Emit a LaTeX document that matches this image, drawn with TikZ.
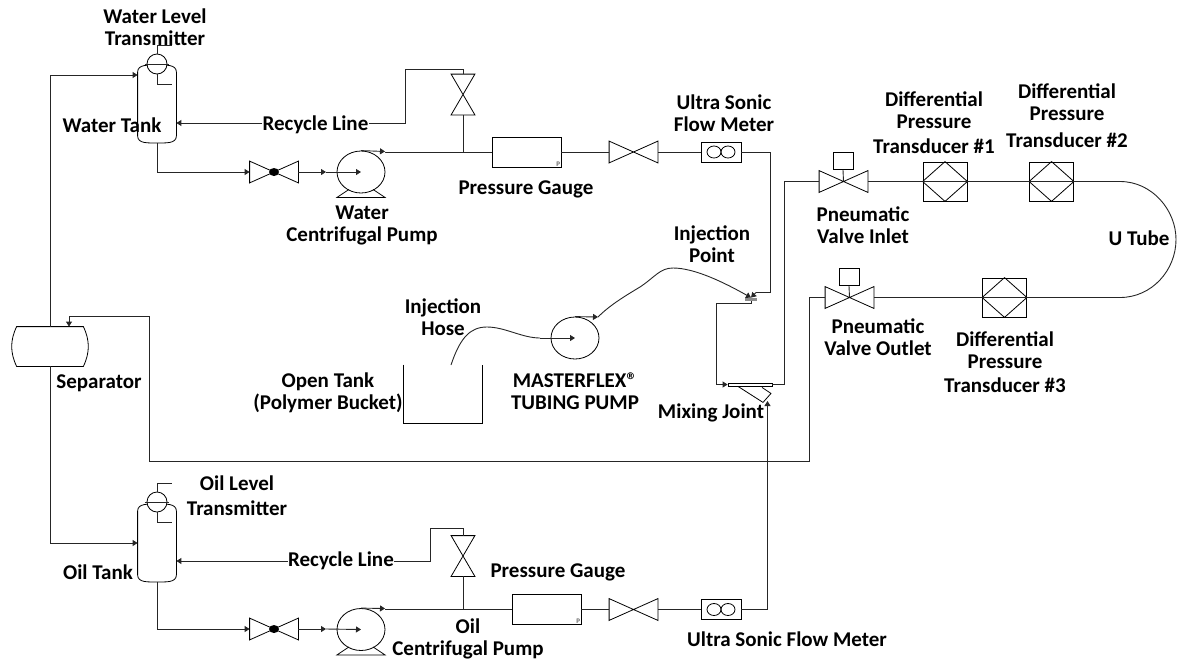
\documentclass[tikz,border=0pt]{standalone}
\usepackage{fontspec}
\setmainfont{Carlito}
\usetikzlibrary{arrows.meta,shapes.geometric}

\begin{document}
\begin{tikzpicture}[
    x=1pt, y=-1pt,
    line width=0.8pt,
    lbl/.style={align=center, inner sep=0pt, font=\fontsize{21}{22}\selectfont\bfseries},
    pipe/.style={draw=black!85, line width=0.9pt},
    arr/.style={pipe, -{Triangle[length=5pt,width=6pt]}},
    valve/.style={inner sep=0pt, minimum width=48pt, minimum height=21pt,
      append after command={\pgfextra{\let\LN\tikzlastnode
        \draw (\LN.north west) -- (\LN.south east) -- (\LN.north east) -- (\LN.south west) -- cycle;}}},
    ballvalve/.style={valve, append after command={\pgfextra{\let\LN\tikzlastnode
        \fill (\LN.center) ellipse (5pt and 4pt);}}},
    vvalve/.style={inner sep=0pt, minimum width=23pt, minimum height=40pt,
      append after command={\pgfextra{\let\LN\tikzlastnode
        \draw (\LN.north west) -- (\LN.north east) -- (\LN.south west) -- (\LN.south east) -- cycle;}}},
    tank/.style={inner sep=0pt, minimum width=38pt, minimum height=77pt,
      append after command={\pgfextra{\let\LN\tikzlastnode
        \draw ([yshift=-7pt]\LN.north west) to[out=90,in=180] (\LN.north)
          to[out=0,in=90] ([yshift=-7pt]\LN.north east) -- ([yshift=7pt]\LN.south east)
          to[out=-90,in=0] (\LN.south) to[out=180,in=-90] ([yshift=7pt]\LN.south west) -- cycle;}}},
    level/.style={draw, circle, fill=white, inner sep=0pt, minimum size=20pt},
    pump/.style={draw, ellipse, inner sep=0pt, minimum width=48pt, minimum height=42pt},
    basepump/.style={pump, append after command={\pgfextra{\let\LN\tikzlastnode
        \draw ([xshift=-12pt,yshift=4pt]\LN.south) -- ([xshift=-24pt,yshift=-4pt]\LN.south)
          -- ([xshift=24pt,yshift=-4pt]\LN.south) -- ([xshift=12pt,yshift=4pt]\LN.south);}}},
    gauge/.style={draw, inner sep=0pt, minimum width=69pt, minimum height=30pt},
    gaugep/.style={inner sep=1pt, text=black!60, font=\fontsize{7}{8}\selectfont\bfseries},
    flowmeter/.style={draw, inner sep=0pt, minimum width=40pt, minimum height=20pt,
      append after command={\pgfextra{\let\LN\tikzlastnode
        \draw ([xshift=-7pt]\LN.center) ellipse (7pt and 6pt);
        \draw ([xshift=7pt]\LN.center) ellipse (7pt and 6pt);}}},
    dpcell/.style={draw, inner sep=0pt, minimum width=44pt, minimum height=39pt,
      append after command={\pgfextra{\let\LN\tikzlastnode
        \draw (\LN.west) -- (\LN.north) -- (\LN.east) -- (\LN.south) -- cycle;}}},
    actuator/.style={draw, inner sep=0pt, minimum width=20pt, minimum height=17pt},
    separator/.style={inner sep=0pt, minimum width=78pt, minimum height=39pt,
      append after command={\pgfextra{\let\LN\tikzlastnode
        \draw ([xshift=6pt]\LN.north west) -- ([xshift=-6pt]\LN.north east)
          to[out=-65,in=65] ([xshift=-6pt]\LN.south east) -- ([xshift=6pt]\LN.south west)
          to[out=115,in=-115] cycle;}}},
    opentank/.style={inner sep=0pt, minimum width=78pt, minimum height=58pt,
      append after command={\pgfextra{\let\LN\tikzlastnode
        \draw (\LN.north west) -- (\LN.south west) -- (\LN.south east) -- (\LN.north east);}}},
    mixer/.style={draw, inner sep=0pt, minimum width=44pt, minimum height=3pt,
      append after command={\pgfextra{\let\LN\tikzlastnode
        \draw ([xshift=-12pt]\LN.south) -- ([xshift=13pt,yshift=-16pt]\LN.south)
          -- ([xshift=21pt,yshift=-7pt]\LN.south) -- ([xshift=12pt,yshift=-1pt]\LN.south);}}},
    injbar/.style={fill=black!45, inner sep=0pt, minimum width=12pt, minimum height=3pt},
  ]
    \useasboundingbox (0,0) rectangle (1177,659);

    % separator and tanks
    \node[separator] (sep) at (50,346.5) {};
    \node[tank] (wtank) at (157,104) {};
    \node[level] (wlt) at (157,64) {};
    \node[tank] (otank) at (157,543) {};
    \node[level] (olt) at (157,502) {};
    \coordinate (wlt1) at (172,45);
    \coordinate (wlt2) at (172,84);
    \coordinate (olt1) at (172,483);
    \coordinate (olt2) at (172,522);

    % water line
    \node[ballvalve] (wball) at (274,172) {};
    \node[basepump] (wpump) at (361,172) {};
    \node[vvalve] (wrv) at (463,94.5) {};
    \node[gauge] (wgauge) at (526.5,152) {};
    \node[gaugep, anchor=south east] (wgp) at (wgauge.south east) {P};
    \node[valve] (wgv) at (633.5,152) {};
    \node[flowmeter] (wfm) at (721,152) {};

    % oil line
    \node[ballvalve] (oball) at (274,629) {};
    \node[basepump] (opump) at (361,629.5) {};
    \node[vvalve] (orv) at (463,556) {};
    \node[gauge] (ogauge) at (546.5,609.5) {};
    \node[gaugep, anchor=south east] (ogp) at (ogauge.south east) {P};
    \node[valve] (ogv) at (633.5,609.5) {};
    \node[flowmeter] (ofm) at (721,609.5) {};

    % test section
    \node[valve] (vin) at (843.5,181.5) {};
    \node[actuator] (ain) at (843,161) {};
    \node[dpcell] (dpa) at (945,181.5) {};
    \node[dpcell] (dpb) at (1051.5,181.5) {};
    \node[dpcell] (dpc) at (1004.5,297.5) {};
    \node[valve] (vout) at (849.5,297.5) {};
    \node[actuator] (aout) at (849,277) {};

    % injection
    \node[opentank] (bucket) at (443,394) {};
    \node[pump] (tpump) at (575,338) {};
    \node[injbar] (injp) at (751,299.5) {};
    \node[mixer] (mix) at (750,384.5) {};

    % labels
    \node[lbl] (lwlt) at (155,27) {Water Level\\Transmitter};
    \node[lbl] (lwt) at (112,125) {Water Tank};
    \node[lbl] (lwr) at (315.5,125) {Recycle Line};
    \node[lbl] (lwp) at (362,225) {Water\\Centrifugal Pump};
    \node[lbl] (lwg) at (526,189) {Pressure Gauge};
    \node[lbl] (lwf) at (724,113) {Ultra Sonic\\Flow Meter};
    \node[lbl] (lip) at (712,244) {Injection\\Point};
    \node[lbl] (lih) at (443,317.5) {Injection\\Hose};
    \node[lbl] (lot) at (328,393) {Open Tank\\(Polymer Bucket)};
    \node[lbl] (ltp) at (575,391) {MASTERFLEX®\\TUBING PUMP};
    \node[lbl] (lmj) at (711,413) {Mixing Joint};
    \node[lbl] (lsep) at (99,383) {Separator};
    \node[lbl] (ldpa) at (934,123) {Differential\\Pressure\\[3pt]Transducer \#1};
    \node[lbl] (ldpb) at (1067,116) {Differential\\Pressure\\[5pt]Transducer \#2};
    \node[lbl] (lvin) at (863,225.5) {Pneumatic\\Valve Inlet};
    \node[lbl] (lut) at (1139,238) {U Tube};
    \node[lbl] (lvout) at (878,337) {Pneumatic\\Valve Outlet};
    \node[lbl] (ldpc) at (1005,362.5) {Differential\\Pressure\\[2pt]Transducer \#3};
    \node[lbl] (lolt) at (237,495.5) {Oil Level\\[3pt]Transmitter};
    \node[lbl] (lot2) at (98,572) {Oil Tank};
    \node[lbl] (lor) at (341,561) {Recycle Line};
    \node[lbl] (log) at (558,572) {Pressure Gauge};
    \node[lbl] (lop) at (468,639) {Oil\\Centrifugal Pump};
    \node[lbl] (lof) at (787,639) {Ultra Sonic Flow Meter};

    % free ends and bends
    \coordinate (wrc) at (405,123);
    \coordinate (wmid) at (326,172);
    \coordinate (wout) at (385,151.5);
    \coordinate (orc) at (430,561);
    \coordinate (omid) at (326,629);
    \coordinate (oout) at (385,608.5);
    \coordinate (wdown) at (770.5,292.5);
    \coordinate (wdown2) at (756,292.5);
    \coordinate (injl) at (716,303);
    \coordinate (mixin) at (767.5,401);
    \coordinate (mixup) at (784,181.5);
    \coordinate (ut1) at (1120,181.5);
    \coordinate (ut2) at (1120,297.5);
    \coordinate (ret) at (809,461.5);
    \coordinate (ret2) at (149.5,316);
    \coordinate (hose0) at (451,365);
    \coordinate (hose1) at (540,338);
    \coordinate (tout) at (598,317);

    % transmitters
    \draw[pipe] (wlt.north) |- (wlt1);
    \draw[pipe] (wlt.south) |- (wlt2);
    \draw[pipe] ([xshift=-2pt]wlt.west) -- ([xshift=2pt]wlt.east);
    \draw[pipe] (olt.north) |- (olt1);
    \draw[pipe] (olt.south) |- (olt2);
    \draw[pipe] ([xshift=-2pt]olt.west) -- ([xshift=2pt]olt.east);

    % separator outlets
    \draw[arr] (sep.north) |- ([yshift=29pt]wtank.west);
    \draw[arr] (sep.south) |- (otank.west);

    % water line
    \draw[arr] (wtank.south) |- (wball.west);
    \draw[arr] (wball.east) -- (wmid);
    \draw[arr] (wmid) -- (wpump.center);
    \draw[arr] (wpump.north) -- (wout);
    \draw[pipe] (wout) |- (wgauge.west);
    \draw[pipe] (wrv.south) -- (wrv.south |- wgauge.west);
    \draw[pipe] (wrv.north) -- ++(0,-5) -| (wrc) -- (lwr.east |- wrc);
    \draw[arr] (lwr.west |- wrc) -- (wtank.east |- wrc);
    \draw[pipe] (wgauge.east) -- (wgv.west);
    \draw[pipe] (wgv.east) -- (wfm.west);
    \draw[pipe] (wfm.east) -| (wdown) -- (wdown2);
    \draw[arr] (wdown2) -- (injp.north);

    % oil line
    \draw[arr] (otank.south) |- (oball.west);
    \draw[arr] (oball.east) -- (omid);
    \draw[arr] (omid) -- (opump.center);
    \draw[arr] (opump.north) -- (oout);
    \draw[pipe] (oout) |- (ogauge.west);
    \draw[pipe] (orv.south) -- (orv.south |- ogauge.west);
    \draw[pipe] (orv.north) -- ++(0,-7) -| (orc) -- (lor.east |- orc);
    \draw[arr] (lor.west |- orc) -- (otank.east |- orc);
    \draw[pipe] (ogauge.east) -- (ogv.west);
    \draw[pipe] (ogv.east) -- (ofm.west);
    \draw[arr] (ofm.east) -| (mixin);

    % injection and mixing
    \draw[pipe] (hose0) .. controls (460,338) and (470,327) .. (487,327) .. controls (505,327) and (522,338) .. (hose1);
    \draw[arr] (hose1) -- (tpump.center);
    \draw[arr] (tpump.north) -- (tout);
    \draw[arr] (tout) .. controls (610,305) and (625,296) .. (640,287) .. controls (655,277) and (660,268) .. (673,268) .. controls (695,268) and (725,283) .. (injp.north);
    \draw[pipe] (injp.south) |- (injl);
    \draw[arr] (injl) |- (mix.west);

    % test section
    \draw[pipe] (mix.east) -| (mixup) -- (vin.west);
    \draw[pipe] (ain.south) -- (vin.center);
    \draw[pipe] (vin.east) -- (dpa.west);
    \draw[pipe] (dpa.west) -- (dpa.east);
    \draw[pipe] (dpa.east) -- (dpb.west);
    \draw[pipe] (dpb.west) -- (dpb.east);
    \draw[pipe] (dpb.east) -- (ut1) .. controls (1152,181.5) and (1176,210) .. (1176,239.5) .. controls (1176,270) and (1152,297.5) .. (ut2) -- (dpc.east);
    \draw[pipe, line width=1.6pt] (dpc.east) -- (dpc.west);
    \draw[pipe] (dpc.west) -- (vout.east);
    \draw[pipe] (aout.south) -- (vout.center);
    \draw[arr] (vout.west) -| (ret) -| (ret2) -| ([xshift=19pt]sep.north);
\end{tikzpicture}
\end{document}
